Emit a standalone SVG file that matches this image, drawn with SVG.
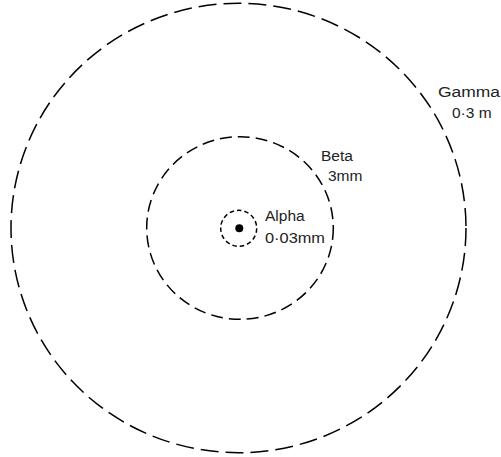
<svg xmlns="http://www.w3.org/2000/svg" width="501" height="457" viewBox="0 0 501 457">
<style>
.ring{fill:none;stroke:#000;stroke-width:1.5}
.lbl{font-family:"Liberation Sans",Arial,sans-serif;font-size:15.5px;fill:#222}
</style>
<rect width="501" height="457" fill="#fff"/>
<g id="gamma">
<ellipse class="ring" cx="238.5" cy="228" rx="227.5" ry="224.7" stroke-dasharray="18 7"/>
<text class="lbl" x="438" y="97" textLength="62" lengthAdjust="spacingAndGlyphs">Gamma</text>
<text class="lbl" x="452" y="118">0·3 m</text>
</g>
<g id="beta">
<ellipse class="ring" cx="240" cy="228" rx="93.3" ry="91.3" stroke-dasharray="12 6"/>
<text class="lbl" x="321" y="161">Beta</text>
<text class="lbl" x="328" y="181">3mm</text>
</g>
<g id="alpha">
<circle class="ring" cx="238.7" cy="228.3" r="18" stroke-dasharray="4.5 3"/>
<circle cx="239.3" cy="228.3" r="4" fill="#000"/>
<text class="lbl" x="265" y="221">Alpha</text>
<text class="lbl" x="265" y="243" textLength="60" lengthAdjust="spacingAndGlyphs">0·03mm</text>
</g>
</svg>
